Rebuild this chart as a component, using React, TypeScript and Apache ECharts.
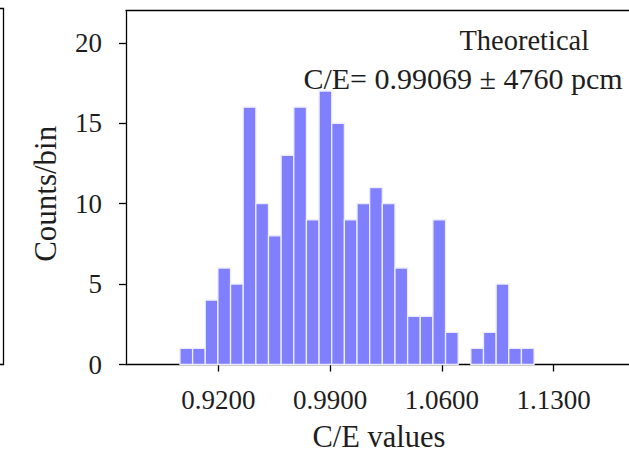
import React, { useEffect, useRef } from "react";
import * as echarts from "echarts";

// Histogram definition (bin edges) and counts
const binStart = 0.896;
const binWidth = 0.00792;
const counts = [1, 1, 4, 6, 5, 16, 10, 8, 13, 16, 9, 17, 15, 9, 10, 11, 10, 6, 3, 3, 9, 2, 0, 1, 2, 5, 1, 1];

const xTicks = [0.92, 0.99, 1.06, 1.13];
const yTicks = [0, 5, 10, 15, 20];
const xRange = [0.8622, 1.1772];
const yRange = [0, 22];

const xTitle = "C/E values";
const yTitle = "Counts/bin";
const annotTitle = "Theoretical";
const annotValue = "C/E= 0.99069 ± 4760 pcm";

const FONT = "'Liberation Serif', 'Times New Roman', serif";
const INK = "#1e1e1e";

export default function App() {
  const ref = useRef<HTMLDivElement>(null);

  useEffect(() => {
    if (!ref.current) return;
    const chart = echarts.init(ref.current, undefined, { renderer: "svg" });

    const data = counts.map((c, i) => [binStart + i * binWidth, binStart + (i + 1) * binWidth, c]);

    const axisLine = { show: true, lineStyle: { color: "#000", width: 1.3 } };

    chart.setOption({
      animation: false,
      backgroundColor: "#fff",
      grid: { left: 126, top: 10.7, right: 0, bottom: 88.5, containLabel: false },
      xAxis: [
        {
          type: "value",
          position: "bottom",
          min: xRange[0],
          max: xRange[1],
          axisLine: { ...axisLine, onZero: false },
          axisTick: { show: true, length: 7, customValues: xTicks, lineStyle: { color: "#000", width: 1.3 } },
          axisLabel: {
            customValues: xTicks,
            formatter: (v: number) => v.toFixed(4),
            fontFamily: FONT,
            fontSize: 27,
            color: INK,
            margin: 22,
          },
          splitLine: { show: false },
        },
        {
          type: "value",
          position: "top",
          min: xRange[0],
          max: xRange[1],
          axisLine: { ...axisLine, onZero: false },
          axisTick: { show: false },
          axisLabel: { show: false },
          splitLine: { show: false },
        },
      ],
      yAxis: {
        type: "value",
        min: yRange[0],
        max: yRange[1],
        axisLine: { ...axisLine, onZero: false },
        axisTick: { show: true, length: 7, customValues: yTicks, lineStyle: { color: "#000", width: 1.3 } },
        axisLabel: {
          customValues: yTicks,
          fontFamily: FONT,
          fontSize: 27,
          color: INK,
          margin: 24,
          padding: [0, 0, 5, 0],
        },
        splitLine: { show: false },
      },
      series: [
        {
          type: "custom",
          xAxisIndex: 0,
          yAxisIndex: 0,
          encode: { x: [0, 1], y: 2 },
          data,
          renderItem: (params: any, api: any) => {
            const lo = api.value(0);
            const hi = api.value(1);
            const c = api.value(2);
            if (!c) return null;
            const p0 = api.coord([lo, c]);
            const p1 = api.coord([hi, 0]);
            return {
              type: "rect",
              shape: { x: p0[0], y: p0[1], width: p1[0] - p0[0], height: p1[1] - p0[1] },
              style: { fill: "#8080ff", stroke: "#ececff", lineWidth: 1.3 },
            };
          },
          z: 1,
        },
      ],
      graphic: [
        {
          type: "polyline",
          shape: { points: [[0, 8.5], [3.5, 8.5], [3.5, 364.5], [0, 364.5]] },
          style: { stroke: "#000", lineWidth: 1.3, fill: "none" },
        },
        {
          type: "text",
          x: 379,
          y: 436.7,
          style: { text: xTitle, font: `30.5px ${FONT}`, fill: INK, align: "center", verticalAlign: "middle" },
        },
        {
          type: "text",
          x: 45,
          y: 193.8,
          rotation: Math.PI / 2,
          style: { text: yTitle, font: `31px ${FONT}`, fill: INK, align: "center", verticalAlign: "middle" },
        },
        {
          type: "text",
          x: 524.3,
          y: 40.5,
          z: 100,
          style: { text: annotTitle, font: `28.5px ${FONT}`, fill: INK, align: "center", verticalAlign: "middle" },
        },
        {
          type: "text",
          x: 463,
          y: 78.3,
          z: 100,
          style: { text: annotValue, font: `30px ${FONT}`, fill: INK, align: "center", verticalAlign: "middle" },
        },
      ],
    });

    return () => chart.dispose();
  }, []);

  return (
    <div
      ref={ref}
      style={{ position: "absolute", left: 0, top: 0, width: 629, height: 453 }}
    />
  );
}
